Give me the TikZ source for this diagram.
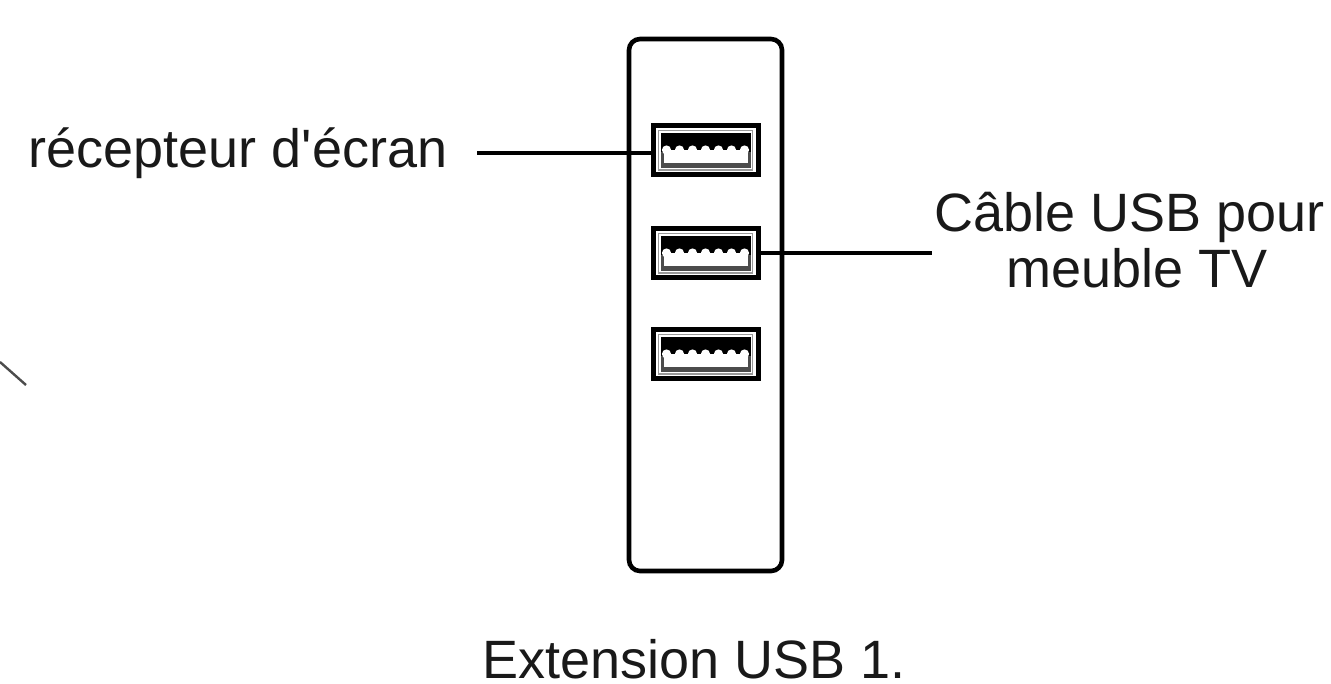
\documentclass[tikz,border=0pt]{standalone}
\usepackage{fontspec}
\newfontfamily\lblface{Liberation Sans}[Ligatures=NoCommon]
\tikzset{
  lbl/.style={inner sep=0pt,anchor=base,text=black!90,font=\lblface\fontsize{54}{56}\selectfont},
  lnk/.style={draw=black,line width=3.6pt},
  portbox/.style={draw=black,line width=5pt,fill=white,minimum width=105pt,minimum height=49pt,inner sep=0pt},
}
\newcommand{\usbport}[3]{%
  \node[portbox] (#1) at (#2,#3) {};
  \fill[black!70] (#2-45,#3-17) rectangle (#2+45,#3+18);
  \fill[black] (#2-45,#3-17) rectangle (#2+45,#3+2);
  \fill[white] (#2-42,#3) rectangle (#2+42,#3+13);
  \foreach \k in {0,...,6} {\fill[white] (#2-39+13*\k,#3) circle[radius=4.6];}
  \draw[black!40,line width=1.8pt] (#2-47,#3-19.5) rectangle (#2+47,#3+20);
}
\begin{document}
\begin{tikzpicture}[x=1pt,y=-1pt]
\useasboundingbox (0,0) rectangle (1331,683);
\node[draw=black,line width=4.6pt,rounded corners=11pt,minimum width=153pt,minimum height=532pt,inner sep=0pt] (body) at (705.5,305) {};
\usbport{porta}{705.5}{150}
\usbport{portb}{705.5}{253}
\usbport{portc}{705.5}{354}
\node[lbl] (recv) at (238,167) {récepteur d'écran};
\node[lbl] (cable) at (1129.5,231) {Câble USB pour};
\node[lbl] (meuble) at (1137,287) {meuble TV};
\node[lbl] (title) at (694,678) {Extension USB 1.};
\coordinate (recvend) at (477,153);
\coordinate (cableend) at (932,253);
\draw[lnk] (recvend) -- (recvend -| porta.west);
\draw[lnk] (portb.east) -- (cableend);
\coordinate (strayA) at (0,362);
\coordinate (strayB) at (26,385);
\draw[black!70,line width=2.4pt] (strayA) -- (strayB);
\end{tikzpicture}
\end{document}
